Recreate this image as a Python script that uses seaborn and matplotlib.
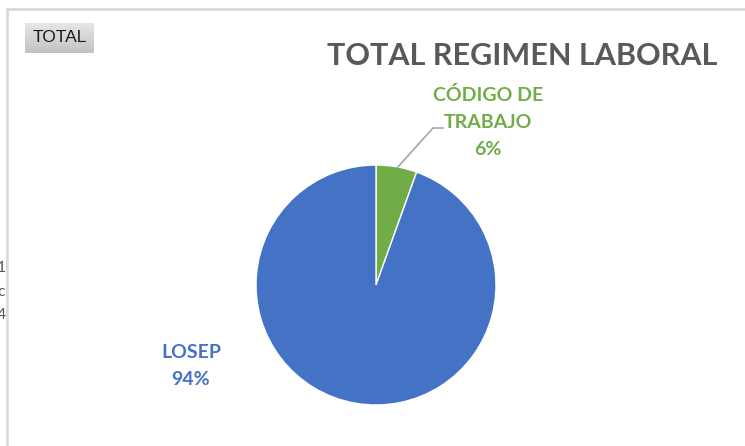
import numpy as np
import matplotlib
matplotlib.use("Agg")
import matplotlib.pyplot as plt
import seaborn as sns
from matplotlib.lines import Line2D
from matplotlib.patches import Rectangle

# ---- data ----
categories = ["CÓDIGO DE\nTRABAJO", "LOSEP"]
shares = [5.5, 94.5]
label_pct = ["6%", "94%"]
title = "TOTAL REGIMEN LABORAL"
filter_label = "TOTAL"
colors = ["#70AD47", "#4472C4"]

sns.set_theme(style="white")
plt.rcParams['font.family'] = ['Lato', 'DejaVu Sans']

W, H = 745, 446
fig = plt.figure(figsize=(W / 100, H / 100), dpi=100)
fig.patch.set_facecolor("white")

def px(x, y):
    return x / W, 1 - y / H

# outer frame
fx, fy = px(7, 9)
fig.add_artist(Rectangle((fx, -0.1), 1 - fx + 0.1, fy + 0.1, transform=fig.transFigure,
                         fill=False, edgecolor="#D9D9D9", lw=2.0))

# pie axes: center (376,285), radius 120 px
cx, cy, r = 376, 285, 120
ax = fig.add_axes([(cx - r) / W, (H - cy - r) / H, 2 * r / W, 2 * r / H])
ax.pie(shares, colors=colors, startangle=90, counterclock=False, radius=1,
       wedgeprops=dict(edgecolor="white", linewidth=1.0))
ax.set_xlim(-1, 1)
ax.set_ylim(-1, 1)
ax.axis("off")

# title
tx, ty = px(522, 56)
fig.text(tx, ty, title, ha="center", va="center", fontsize=22, fontweight="bold", color="#595959")

# data labels
lx, ly = px(488, 122)
fig.text(lx, ly, categories[0] + "\n" + label_pct[0], ha="center", va="center",
         fontsize=14, fontweight="bold", color=colors[0], linespacing=1.68)
lx, ly = px(191, 366)
fig.text(lx, ly, categories[1] + "\n" + label_pct[1], ha="center", va="center",
         fontsize=14, fontweight="bold", color=colors[1], linespacing=1.7)

# leader line
p0, p1, p2 = px(397, 168), px(433, 128), px(443, 128)
fig.add_artist(Line2D([p0[0], p1[0], p2[0]], [p0[1], p1[1], p2[1]],
                      transform=fig.transFigure, color="#A6A6A6", lw=1.2))

# filter button with gradient
bx0, by0, bx1, by1 = 25, 23, 94, 53
bax = fig.add_axes([bx0 / W, (H - by1) / H, (bx1 - bx0) / W, (by1 - by0) / H])
grad = np.linspace(0.90, 0.76, 50).reshape(-1, 1)
bax.imshow(grad, cmap="gray", vmin=0, vmax=1, aspect="auto", extent=[0, 1, 0, 1])
bax.set_xlim(0, 1); bax.set_ylim(0, 1)
bax.axis("off")
bax.text(0.5, 0.5, filter_label, ha="center", va="center", fontsize=12.5, color="#1a1a1a",
         family=["Liberation Sans", "DejaVu Sans"])

# cropped legend text at left edge
for yy, s in [(268, "1"), (292, "ac"), (315, "4")]:
    x_, y_ = px(6, yy)
    fig.text(x_, y_, s, ha="right", va="center", fontsize=11.5, color="#595959")

fig.savefig("out.png", dpi=100, facecolor="white")
